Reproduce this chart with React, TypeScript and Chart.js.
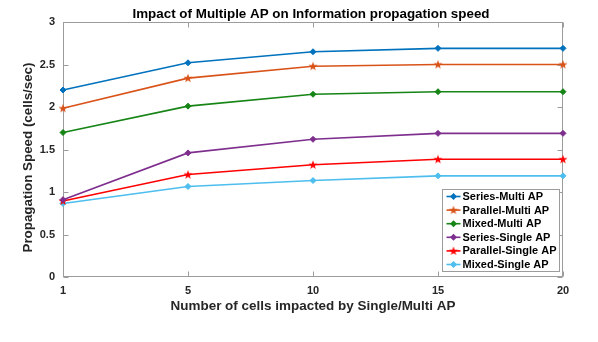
import React, { useEffect, useRef } from "react";
import { Chart, registerables } from "chart.js";

Chart.register(...registerables);

const xLabels = ["1", "5", "10", "15", "20"];
const seriesNames = [
  "Series-Multi AP",
  "Parallel-Multi AP",
  "Mixed-Multi AP",
  "Series-Single AP",
  "Parallel-Single AP",
  "Mixed-Single AP",
];
const seriesMultiAP = [2.2, 2.52, 2.65, 2.69, 2.69];
const parallelMultiAP = [1.985, 2.34, 2.48, 2.5, 2.5];
const mixedMultiAP = [1.7, 2.01, 2.15, 2.18, 2.18];
const seriesSingleAP = [0.91, 1.46, 1.62, 1.69, 1.69];
const parallelSingleAP = [0.895, 1.205, 1.32, 1.385, 1.385];
const mixedSingleAP = [0.865, 1.065, 1.135, 1.19, 1.19];
const yTicks = [0, 0.5, 1, 1.5, 2, 2.5, 3];

const titleText = "Impact of Multiple AP on Information propagation speed";
const xTitle = "Number of cells impacted by Single/Multi AP";
const yTitle = "Propagation Speed (cells/sec)";

const colors = ["#0072BD", "#D95319", "#168516", "#7E2F8E", "#FF0000", "#4DBEEE"];
const markerKinds = ["diamond", "star", "diamond", "diamond", "star", "diamond"];

const FONT = '"Liberation Sans", Arial, Helvetica, sans-serif';
const AXIS_GRAY = "#9c9c9c";

function makeStar(color: string): HTMLCanvasElement {
  const c = document.createElement("canvas");
  c.width = 10;
  c.height = 10;
  const g = c.getContext("2d")!;
  const cx = 5, cy = 5.3, R = 4.7, r = 1.9;
  g.beginPath();
  for (let i = 0; i < 10; i++) {
    const ang = -Math.PI / 2 + (i * Math.PI) / 5;
    const rad = i % 2 === 0 ? R : r;
    const px = cx + rad * Math.cos(ang);
    const py = cy + rad * Math.sin(ang);
    if (i === 0) g.moveTo(px, py);
    else g.lineTo(px, py);
  }
  g.closePath();
  g.fillStyle = color;
  g.fill();
  return c;
}

function drawFitted(
  ctx: CanvasRenderingContext2D,
  text: string,
  x: number,
  y: number,
  font: string,
  targetW: number,
  align: CanvasTextAlign,
  baseline: CanvasTextBaseline,
  color: string,
  rotate = 0
) {
  ctx.save();
  ctx.font = font;
  const w = ctx.measureText(text).width;
  const sx = targetW / w;
  ctx.translate(x, y);
  if (rotate) ctx.rotate(rotate);
  ctx.scale(sx, 1);
  ctx.textAlign = align;
  ctx.textBaseline = baseline;
  ctx.fillStyle = color;
  ctx.fillText(text, 0, 0);
  ctx.restore();
}

export default function App() {
  const ref = useRef<HTMLCanvasElement | null>(null);

  useEffect(() => {
    const canvas = ref.current;
    if (!canvas) return;
    const allData = [
      seriesMultiAP,
      parallelMultiAP,
      mixedMultiAP,
      seriesSingleAP,
      parallelSingleAP,
      mixedSingleAP,
    ];
    const starImgs = colors.map((c) => makeStar(c));

    const datasets = allData.map((d, i) => ({
      label: seriesNames[i],
      data: d,
      borderColor: colors[i],
      backgroundColor: colors[i],
      borderWidth: 1.6,
      pointStyle: markerKinds[i] === "star" ? starImgs[i] : "rectRot",
      pointRadius: 3,
      pointBorderWidth: 1,
      pointBackgroundColor: colors[i],
      pointBorderColor: colors[i],
      tension: 0,
      clip: false as any,
    }));

    const decor = {
      id: "decor",
      beforeDatasetsDraw(chart: any) {
        const ctx = chart.ctx as CanvasRenderingContext2D;
        const a = chart.chartArea;
        const L = Math.round(a.left) + 0.5;
        const R = Math.round(a.right) - 0.5;
        const T = Math.round(a.top) + 0.5;
        const B = Math.round(a.bottom) - 0.5;
        ctx.save();
        ctx.strokeStyle = AXIS_GRAY;
        ctx.lineWidth = 1;
        ctx.strokeRect(L, T, R - L, B - T);
        const tl = 5;
        const xs = chart.scales.x;
        ctx.beginPath();
        for (let i = 0; i < xLabels.length; i++) {
          const px = Math.round(xs.getPixelForTick(i)) + 0.5;
          ctx.moveTo(px, B);
          ctx.lineTo(px, B - tl);
          ctx.moveTo(px, T);
          ctx.lineTo(px, T + tl);
        }
        const ys = chart.scales.y;
        for (const v of yTicks) {
          const py = Math.round(ys.getPixelForValue(v)) + 0.5;
          ctx.moveTo(L, py);
          ctx.lineTo(L + tl, py);
          ctx.moveTo(R, py);
          ctx.lineTo(R - tl, py);
        }
        ctx.stroke();
        ctx.restore();
      },
      afterDraw(chart: any) {
        const ctx = chart.ctx as CanvasRenderingContext2D;
        const a = chart.chartArea;
        const cx = (a.left + a.right) / 2;
        // Title
        drawFitted(ctx, titleText, cx - 2, a.top - 4, `bold 13px ${FONT}`, 357, "center", "alphabetic", "#000");
        // X title
        drawFitted(ctx, xTitle, cx, a.bottom + 33, `bold 13px ${FONT}`, 285, "center", "alphabetic", "#262626");
        // Y title
        drawFitted(
          ctx,
          yTitle,
          a.left - 31,
          (a.top + a.bottom) / 2 + 8,
          `bold 13px ${FONT}`,
          190,
          "center",
          "alphabetic",
          "#262626",
          -Math.PI / 2
        );
        // Legend
        const lw = 117, lh = 82;
        const x0 = Math.round(a.right - 121) + 0.5;
        const y0 = Math.round(a.bottom - 88) + 0.5;
        ctx.save();
        ctx.fillStyle = "#fff";
        ctx.fillRect(x0, y0, lw, lh);
        ctx.strokeStyle = AXIS_GRAY;
        ctx.lineWidth = 1;
        ctx.strokeRect(x0, y0, lw, lh);
        ctx.font = `bold 11px ${FONT}`;
        const refW = ctx.measureText("Parallel-Single AP").width;
        const factor = 94 / refW;
        for (let i = 0; i < seriesNames.length; i++) {
          const ry = y0 + 7 + i * 13.6;
          ctx.strokeStyle = colors[i];
          ctx.lineWidth = 1.6;
          ctx.beginPath();
          ctx.moveTo(x0 + 4, ry);
          ctx.lineTo(x0 + 18, ry);
          ctx.stroke();
          const mx = x0 + 11;
          if (markerKinds[i] === "star") {
            ctx.drawImage(starImgs[i], mx - 5, ry - 5);
          } else {
            ctx.fillStyle = colors[i];
            ctx.beginPath();
            ctx.moveTo(mx, ry - 3.5);
            ctx.lineTo(mx + 3.5, ry);
            ctx.lineTo(mx, ry + 3.5);
            ctx.lineTo(mx - 3.5, ry);
            ctx.closePath();
            ctx.fill();
          }
          const tw = ctx.measureText(seriesNames[i]).width * factor;
          drawFitted(ctx, seriesNames[i], x0 + 20, ry + 0.5, `bold 11px ${FONT}`, tw, "left", "middle", "#000");
        }
        ctx.restore();
      },
    };

    const chart = new Chart(canvas, {
      type: "line",
      data: { labels: xLabels, datasets: datasets as any },
      options: {
        responsive: false,
        animation: false,
        events: [],
        layout: { padding: { left: 0, right: 35, top: 22, bottom: 0 } },
        plugins: {
          legend: { display: false },
          title: { display: false },
          tooltip: { enabled: false },
        },
        scales: {
          x: {
            type: "category",
            offset: false,
            grid: { display: false, drawTicks: false },
            border: { display: false },
            ticks: {
              padding: 7,
              color: "#262626",
              font: { family: FONT, size: 11, weight: "bold" },
              maxRotation: 0,
              autoSkip: false,
            },
            afterFit(scale: any) {
              scale.height = 65;
            },
          },
          y: {
            type: "linear",
            min: 0,
            max: 3,
            grid: { display: false, drawTicks: false },
            border: { display: false },
            ticks: {
              padding: 8,
              color: "#262626",
              font: { family: FONT, size: 11, weight: "bold" },
              callback: (v: any) => String(Number(v)),
            },
            afterBuildTicks(scale: any) {
              scale.ticks = yTicks.map((v) => ({ value: v }));
            },
            afterFit(scale: any) {
              scale.width = 63;
            },
          },
        },
      },
      plugins: [decor],
    });

    return () => chart.destroy();
  }, []);

  return (
    <div style={{ position: "fixed", left: 0, top: 0, width: 598, height: 342, background: "#fff" }}>
      <canvas ref={ref} width={598} height={342} style={{ width: 598, height: 342, display: "block" }} />
    </div>
  );
}
